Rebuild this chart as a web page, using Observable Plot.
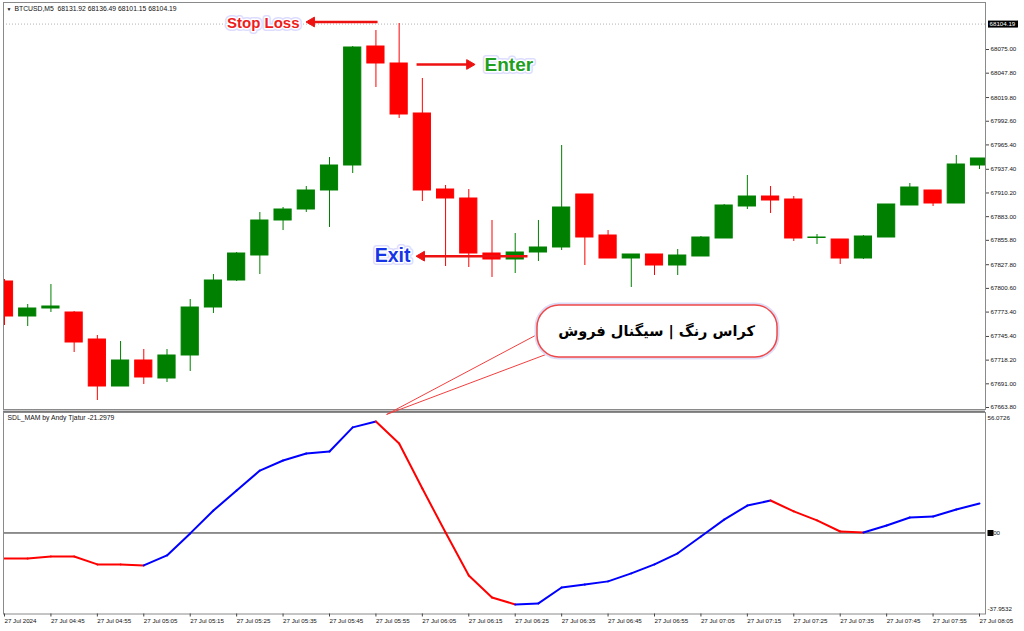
<!DOCTYPE html>
<html><head><meta charset="utf-8">
<script src="https://cdn.jsdelivr.net/npm/d3@7"></script>
<script src="https://cdn.jsdelivr.net/npm/@observablehq/plot@0.6"></script>
<style>
html,body{margin:0;padding:0;background:#fff;}
#wrap{position:relative;width:1024px;height:631px;overflow:hidden;background:#fff;}
#price{position:absolute;left:0;top:0;z-index:2;}
#ind{position:absolute;left:0;top:411px;z-index:1;}
#sep{position:absolute;left:3px;top:409px;width:982px;height:3px;background:#c8c8c8;border-top:1px solid #7a7a7a;border-bottom:1px solid #7a7a7a;box-sizing:border-box;}
</style></head><body>
<div id="wrap"><div id="sep"></div><div id="price"></div><div id="ind"></div></div>
<script>
// ---- data ----
const headerText = "BTCUSD,M5  68131.92 68136.49 68101.15 68104.19";
const indicatorName = "SDL_MAM by Andy Tjatur -21.2979";
const lastPrice = 68104.19;

const candleOpen = [67808.52,67768.32,67777.51,67772.92,67741.90,67687.92,67717.78,67697.11,67723.53,67778.66,
 67809.67,67838.39,67878.59,67891.22,67913.05,67941.76,68078.44,68058.92,68001.49,67914.19,
 67903.86,67840.68,67833.79,67841.83,67847.58,67908.45,67861.36,67834.94,67839.54,67826.90,
 67837.24,67857.91,67894.67,67906.15,67902.71,67858.49,67856.76,67834.94,67859.06,67895.82,
 67913.05,67898.11,67941.76];
const candleHigh = [67810.82,67782.11,67805.08,67774.07,67746.50,67739.61,67730.42,67730.42,67787.85,67816.56,
 67841.83,67887.78,67893.52,67917.64,67950.95,68078.44,68096.82,68104.86,68041.69,67918.79,
 67914.19,67878.59,67863.66,67878.59,67964.73,67908.45,67867.10,67839.54,67839.54,67845.28,
 67860.21,67896.97,67930.27,67917.64,67906.15,67862.51,67856.76,67861.36,67896.97,67921.09,
 67913.05,67953.25,67949.80];
const candleLow = [67757.98,67756.84,67772.92,67726.97,67671.84,67687.92,67690.22,67692.51,67705.15,67771.77,
 67808.52,67816.56,67867.10,67887.78,67870.55,67932.57,68031.35,67995.75,67900.41,67825.75,
 67824.60,67813.12,67817.71,67831.50,67844.13,67826.90,67834.94,67801.63,67815.41,67815.41,
 67837.24,67857.91,67891.22,67886.63,67854.47,67851.02,67828.05,67833.79,67859.06,67895.82,
 67894.67,67898.11,67937.17];
const candleClose = [67768.32,67777.51,67779.81,67738.46,67687.92,67717.78,67698.26,67723.53,67778.66,67809.67,
 67840.68,67878.59,67891.22,67913.05,67941.76,68077.30,68058.92,68000.34,67913.05,67903.86,
 67840.68,67833.79,67841.83,67847.58,67893.52,67859.06,67834.94,67839.54,67826.90,67838.39,
 67859.06,67895.82,67906.15,67901.56,67857.91,67859.06,67834.94,67860.21,67896.97,67916.49,
 67898.11,67942.91,67949.80];

const sdlValues = [-12.2,-12.2,-11.2,-11.2,-15.0,-15.0,-15.5,-10.7,-0.2,10.7,
 20.3,29.8,34.6,37.9,38.9,50.4,53.2,42.7,21.2,0.2,
 -20.3,-30.8,-34.1,-33.6,-26.0,-24.6,-23.1,-19.3,-15.0,-9.7,
 -1.7,6.4,13.1,15.5,10.3,6.0,0.7,0.2,3.6,7.4,
 7.9,11.2,14.1];
// trend state at each bar (colour of segment arriving at that bar)
const sdlTrend = ["dn","dn","dn","dn","dn","dn","dn","up","up","up",
 "up","up","up","up","up","up","up","dn","dn","dn",
 "dn","dn","dn","up","up","up","up","up","up","up",
 "up","up","up","up","dn","dn","dn","dn","up","up",
 "up","up","up"];

const priceTicks = [68075.00,68047.80,68019.80,67992.60,67965.40,67937.40,67910.20,67883.00,
 67855.80,67827.80,67800.60,67773.40,67745.40,67718.20,67691.00,67663.80];
const sdlScaleLabels = [56.0726, 0, -37.9532];
const timeTickBars = [0,2,4,6,8,10,12,14,16,18,20,22,24,26,28,30,32,34,36,38,40,42];
const timeTickLabels = ["27 Jul 2024","27 Jul 04:45","27 Jul 04:55","27 Jul 05:05","27 Jul 05:15","27 Jul 05:25",
 "27 Jul 05:35","27 Jul 05:45","27 Jul 05:55","27 Jul 06:05","27 Jul 06:15","27 Jul 06:25","27 Jul 06:35",
 "27 Jul 06:45","27 Jul 06:55","27 Jul 07:05","27 Jul 07:15","27 Jul 07:25","27 Jul 07:35","27 Jul 07:45",
 "27 Jul 07:55","27 Jul 08:05"];

// annotations (bar index, price)
const labelNames = ["Stop Loss","Enter","Exit"];
const labelBars = [12.71, 20.68, 17.49];
const labelPrices = [68105.6, 68057.8, 67837.6];
const labelColors = ["#ee1c1c","#1f9e1f","#1535e6"];
const labelSizes = [15, 19, 19.5];
const labelAnchors = ["end","start","end"];
const arrowFrom = [16.07, 17.75, 22.53];
const arrowTo = [13.01, 20.25, 17.75];
const arrowPrices = [68106.6, 68057.8, 67837.6];

const calloutText = "کراس رنگ | سیگنال فروش";
const calloutBox = {x1: 22.96, x2: 33.30, y1: 67721.2, y2: 67781.0};
const calloutTextPos = {x: 28.09, y: 67751.1};
const calloutTip = {x: 16.46, y: 67655.8};
const calloutAttach = [{x: 23.43, y: 67754.5}, {x: 23.78, y: 67729.3}];

// ---- build ----
const GREEN = "#008000", RED = "#ff0000";
const candles = candleOpen.map((o, i) => ({i, o, h: candleHigh[i], l: candleLow[i], c: candleClose[i],
  col: candleClose[i] >= o ? GREEN : RED}));

const rectSymbol = (w, h) => ({draw(ctx) { ctx.moveTo(-w/2, -h/2); ctx.lineTo(w/2, -h/2); ctx.lineTo(w/2, h/2); ctx.lineTo(-w/2, h/2); ctx.closePath(); }});

const xScale = {domain: [0, 42], range: [4, 979]};

const annoMarks = [];
labelNames.forEach((t, k) => {
  const common = {x: d => d.x, y: d => d.y, text: d => d.t, textAnchor: labelAnchors[k], lineAnchor: "middle",
    fontSize: labelSizes[k], fontWeight: "bold", fontFamily: "Liberation Sans, Arial, sans-serif"};
  const d = [{x: labelBars[k], y: labelPrices[k], t}];
  annoMarks.push(Plot.text(d, {...common, fill: "#dcdcff", stroke: "#dcdcff", strokeWidth: 6}));
  annoMarks.push(Plot.text(d, {...common, fill: labelColors[k], stroke: "white", strokeWidth: 3}));
});
const arrows = arrowFrom.map((a, k) => {
  const dir = Math.sign(arrowTo[k] - a);
  return {x1: a, x2: arrowTo[k] - dir * 0.25, y: arrowPrices[k], hx: arrowTo[k] - dir * 0.22, rot: dir > 0 ? 90 : -90};
});
annoMarks.push(Plot.link(arrows, {x1: "x1", x2: "x2", y1: "y", y2: "y", stroke: "#ee1111", strokeWidth: 2.5}));
annoMarks.push(Plot.dot(arrows, {x: "hx", y: "y", rotate: "rot", symbol: "triangle", r: 3.6, fill: "#ee1111", stroke: "#ee1111", strokeWidth: 1}));

const pricePlot = Plot.plot({
  width: 1024, height: 411,
  marginLeft: 3, marginRight: 39, marginTop: 2, marginBottom: 2,
  x: {...xScale, axis: null},
  y: {domain: [67663.8, 68075.0], range: [407, 49], axis: null},
  color: {type: "identity"},
  style: {background: "transparent", overflow: "visible", fontFamily: "Liberation Sans, Arial, sans-serif", fontSize: "6px", color: "#111"},
  marks: [
    Plot.ruleY([lastPrice], {stroke: "#b4b4b4", strokeDasharray: "1,2"}),
    Plot.ruleX(candles, {x: "i", y1: "l", y2: "h", stroke: "col", strokeWidth: 1, clip: true}),
    Plot.rect(candles, {x1: d => d.i - 0.37, x2: d => d.i + 0.37, y1: "o", y2: "c", fill: "col", stroke: "col", strokeWidth: 1, clip: true}),
    Plot.frame({stroke: "#8a8a8a"}),
    Plot.axisY(priceTicks, {anchor: "right", tickSize: 3, tickPadding: 2, tickFormat: d3.format(".2f"), fontSize: 6.2, fill: "#111", stroke: "#444", label: null}),
    Plot.dot([lastPrice], {y: d => d, frameAnchor: "right", dx: 17.5, symbol: rectSymbol(30, 7), r: 3, fill: "black", stroke: "none"}),
    Plot.text([lastPrice], {y: d => d, text: d => d3.format(".2f")(d), frameAnchor: "right", dx: 4, textAnchor: "start", fill: "white", fontSize: 6.2}),
    Plot.text(["▼"], {frameAnchor: "top-left", dx: 3, dy: 5, textAnchor: "start", lineAnchor: "top", fontSize: 5, fill: "#111"}),
    Plot.text([headerText], {frameAnchor: "top-left", dx: 11, dy: 4, textAnchor: "start", lineAnchor: "top", fontSize: 6.8, fill: "#111"}),
    ...annoMarks,
    Plot.link(calloutAttach, {x1: calloutTip.x, y1: calloutTip.y, x2: "x", y2: "y", stroke: "#f04040", strokeWidth: 1}),
    Plot.rect([calloutBox], {x1: "x1", x2: "x2", y1: "y1", y2: "y2", rx: 22, fill: "white", stroke: "#dcdcf8", strokeWidth: 5}),
    Plot.rect([calloutBox], {x1: "x1", x2: "x2", y1: "y1", y2: "y2", rx: 22, fill: "white", stroke: "#f04848", strokeWidth: 1.5}),
    Plot.text([calloutText], {x: calloutTextPos.x, y: calloutTextPos.y, text: d => d, fontFamily: "DejaVu Sans, sans-serif", fontWeight: "bold", fontSize: 14.5, fill: "#000", lineAnchor: "middle"})
  ]
});
document.getElementById("price").appendChild(pricePlot);

const segs = sdlValues.slice(1).map((v, k) => ({x1: k, y1: sdlValues[k], x2: k + 1, y2: v,
  col: sdlTrend[k + 1] === "up" ? "#0000ff" : "#ff0000"}));

const indPlot = Plot.plot({
  width: 1024, height: 220,
  marginLeft: 3, marginRight: 39, marginTop: 1, marginBottom: 17.5,
  x: {...xScale, axis: null},
  y: {domain: [-37.9532, 56.0726], range: [201, 4], axis: null},
  color: {type: "identity"},
  style: {background: "transparent", overflow: "visible", fontFamily: "Liberation Sans, Arial, sans-serif", fontSize: "6px", color: "#111"},
  marks: [
    Plot.ruleY([0], {stroke: "#222", strokeWidth: 1}),
    Plot.link(segs, {x1: "x1", y1: "y1", x2: "x2", y2: "y2", stroke: "col", strokeWidth: 2, strokeLinecap: "round"}),
    Plot.frame({stroke: "#8a8a8a"}),
    Plot.axisX(timeTickBars, {anchor: "bottom", tickSize: 3, tickPadding: 1.5, textAnchor: "start", fontSize: 6.2, fill: "#111", stroke: "#444",
      tickFormat: d => timeTickLabels[timeTickBars.indexOf(d)], label: null}),
    Plot.text([sdlScaleLabels[0]], {y: d => d, text: d => String(d), frameAnchor: "right", dx: 2, dy: 3, textAnchor: "start", fontSize: 6.2, fill: "#111"}),
    Plot.dot([sdlScaleLabels[1]], {y: d => d, frameAnchor: "right", dx: 5, symbol: rectSymbol(6, 6), r: 3, fill: "black", stroke: "none"}),
    Plot.text([sdlScaleLabels[1]], {y: d => d, text: d => d3.format(".2f")(d), frameAnchor: "right", dx: 2.5, textAnchor: "start", fontSize: 6.2, fill: "#111"}),
    Plot.text([sdlScaleLabels[2]], {y: d => d, text: d => String(d), frameAnchor: "right", dx: 2, dy: -3, textAnchor: "start", fontSize: 6.2, fill: "#111"}),
    Plot.text([indicatorName], {frameAnchor: "top-left", dx: 4, dy: 3, textAnchor: "start", lineAnchor: "top", fontSize: 6.8, fill: "#111"})
  ]
});
document.getElementById("ind").appendChild(indPlot);
</script>
</body></html>
